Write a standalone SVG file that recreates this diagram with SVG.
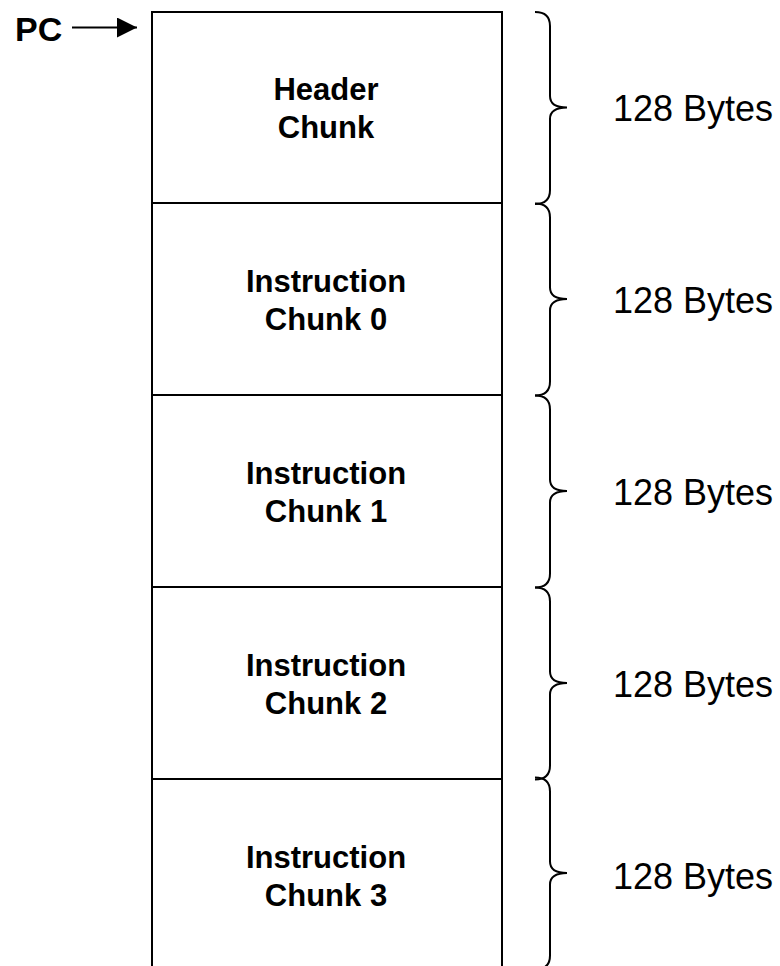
<svg xmlns="http://www.w3.org/2000/svg" width="780" height="966" viewBox="0 0 780 966">
  <style>
    .cell { fill: #ffffff; stroke: #000000; stroke-width: 2; }
    .label { font-family: "Liberation Sans", Arial, sans-serif; font-weight: bold; font-size: 31px; fill: #000000; text-anchor: middle; }
    .size { font-family: "Liberation Sans", Arial, sans-serif; font-size: 36px; fill: #000000; }
    .brace { fill: none; stroke: #000000; stroke-width: 2; }
    .wire { fill: none; stroke: #000000; stroke-width: 2; }
  </style>
  <defs>
    <marker id="arrowhead" viewBox="0 0 20 20" refX="20" refY="10" markerWidth="20" markerHeight="20" markerUnits="userSpaceOnUse" orient="auto">
      <path d="M0,0 L20,10 L0,20 Z" fill="#000000"/>
    </marker>
    <!-- right curly brace spanning 192px, drawn from its top end -->
    <path id="brace" class="brace" d="M535,0 C545,0 550,4 550,14 L550,84 C550,92 556,95.5 567,95.5 C556,95.5 550,99 550,107 L550,178 C550,188 545,192 535,192"/>
  </defs>

  <rect width="780" height="966" fill="#ffffff"/>

  <!-- program counter pointer -->
  <g id="pc">
    <text x="15" y="41" font-family="'Liberation Sans', Arial, sans-serif" font-weight="bold" font-size="34">PC</text>
  </g>

  <g id="connectors">
    <line class="wire" x1="72" y1="27.5" x2="137" y2="27.5" marker-end="url(#arrowhead)"/>
  </g>

  <!-- memory layout chunks -->
  <g id="header-chunk">
    <rect class="cell" x="152" y="12" width="350" height="191"/>
    <text class="label" x="326" y="99.5">Header</text>
    <text class="label" x="326" y="138">Chunk</text>
  </g>
  <g id="instruction-chunk-0">
    <rect class="cell" x="152" y="203" width="350" height="192"/>
    <text class="label" x="326" y="291.5">Instruction</text>
    <text class="label" x="326" y="330">Chunk 0</text>
  </g>
  <g id="instruction-chunk-1">
    <rect class="cell" x="152" y="395" width="350" height="192"/>
    <text class="label" x="326" y="483.5">Instruction</text>
    <text class="label" x="326" y="522">Chunk 1</text>
  </g>
  <g id="instruction-chunk-2">
    <rect class="cell" x="152" y="587" width="350" height="192"/>
    <text class="label" x="326" y="675.5">Instruction</text>
    <text class="label" x="326" y="714">Chunk 2</text>
  </g>
  <g id="instruction-chunk-3">
    <path class="cell" d="M152,967 L152,779 L502,779 L502,967"/>
    <text class="label" x="326" y="867.5">Instruction</text>
    <text class="label" x="326" y="906">Chunk 3</text>
  </g>

  <!-- size annotations -->
  <g id="size-0">
    <use href="#brace" y="12"/>
    <text class="size" x="613" y="120.5">128 Bytes</text>
  </g>
  <g id="size-1">
    <use href="#brace" y="203.5"/>
    <text class="size" x="613" y="312.5">128 Bytes</text>
  </g>
  <g id="size-2">
    <use href="#brace" y="395.5"/>
    <text class="size" x="613" y="504.5">128 Bytes</text>
  </g>
  <g id="size-3">
    <use href="#brace" y="587.5"/>
    <text class="size" x="613" y="696.5">128 Bytes</text>
  </g>
  <g id="size-4">
    <use href="#brace" y="777.5"/>
    <text class="size" x="613" y="888.5">128 Bytes</text>
  </g>
</svg>
